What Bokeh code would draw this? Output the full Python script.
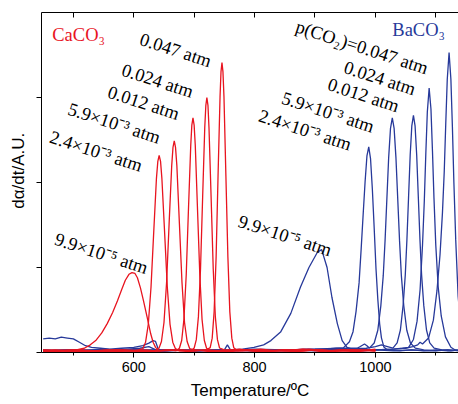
from bokeh.plotting import figure
from bokeh.models import Range1d, LinearAxis, FixedTicker
from bokeh.core.properties import value
from bokeh.embed import file_html
from bokeh.resources import INLINE

# ---------------- data ----------------
# CaCO3 curves (temperature in degC, d(alpha)/dt in arbitrary units)
ca_99e5_t = [450, 470, 490, 505, 518, 528, 537, 547, 556, 565, 573, 580, 586, 592, 597, 602, 606, 611, 616, 622,
             628, 632, 636, 642, 660, 690, 720, 750, 780, 810, 840, 870, 900, 930, 960, 1000]
ca_99e5_y = [0.02, 0.03, 0.02, 0.03, 0.05, 0.09, 0.14, 0.23, 0.34, 0.47, 0.61, 0.74, 0.85, 0.92, 0.94, 0.93, 0.88,
             0.76, 0.61, 0.42, 0.22, 0.12, 0.06, 0.02, 0.03, 0.01, 0.03, 0.02, 0.03, 0.01, 0.03, 0.02, 0.03, 0.02,
             0.03, 0.02]

ca_24e3_t = [450, 475, 500, 525, 550, 575, 600, 608,
             615, 619.5, 624, 628.5, 633, 637.5, 639.8, 642, 644.3, 646.5, 651, 655.5, 660, 664.5, 669,
             675, 700, 725, 750, 775, 800, 825, 850, 875, 900, 925, 950, 975, 1000]
ca_24e3_y = [0.02, 0.01, 0.03, 0.02, 0.01, 0.03, 0.02, 0.03,
             0.045, 0.121, 0.331, 0.768, 1.416, 2.049, 2.249, 2.32, 2.249, 2.049, 1.416, 0.768, 0.331, 0.121, 0.045,
             0.02, 0.03, 0.01, 0.02, 0.04, 0.02, 0.01, 0.03, 0.02, 0.03, 0.01, 0.02, 0.03, 0.02]

ca_59e3_t = [450, 480, 510, 540, 570, 600, 620, 635,
             641.5, 645.8, 650, 654.3, 658.5, 662.8, 664.9, 667, 669.1, 671.3, 675.5, 679.8, 684, 688.3, 692.5,
             700, 730, 760, 790, 820, 850, 880, 910, 940, 970, 1000]
ca_59e3_y = [0.01, 0.02, 0.03, 0.02, 0.01, 0.02, 0.03, 0.02,
             0.047, 0.129, 0.353, 0.823, 1.519, 2.199, 2.413, 2.49, 2.413, 2.199, 1.519, 0.823, 0.353, 0.129, 0.047,
             0.03, 0.02, 0.01, 0.03, 0.02, 0.02, 0.04, 0.01, 0.03, 0.02, 0.03]

ca_012_t = [450, 485, 520, 555, 590, 625, 655, 670,
            675.5, 679.3, 683, 686.8, 690.5, 694.3, 696.1, 698, 699.9, 701.8, 705.5, 709.3, 713, 716.8, 720.5,
            728, 760, 790, 820, 850, 880, 910, 940, 970, 1000]
ca_012_y = [0.03, 0.02, 0.01, 0.03, 0.02, 0.01, 0.03, 0.02,
            0.05, 0.141, 0.39, 0.911, 1.683, 2.437, 2.675, 2.76, 2.675, 2.437, 1.683, 0.911, 0.39, 0.141, 0.05,
            0.02, 0.03, 0.02, 0.01, 0.03, 0.02, 0.03, 0.02, 0.01, 0.03]

ca_024_t = [450, 490, 530, 570, 610, 650, 680, 695,
            700, 703.5, 707, 710.5, 714, 717.5, 719.3, 721, 722.8, 724.5, 728, 731.5, 735, 738.5, 742,
            750, 780, 810, 840, 870, 900, 930, 960, 1000]
ca_024_y = [0.02, 0.03, 0.02, 0.03, 0.01, 0.02, 0.03, 0.02,
            0.053, 0.151, 0.422, 0.989, 1.829, 2.648, 2.908, 3.0, 2.908, 2.648, 1.829, 0.989, 0.422, 0.151, 0.053,
            0.03, 0.02, 0.04, 0.02, 0.01, 0.03, 0.02, 0.03, 0.02]

ca_047_t = [450, 495, 540, 585, 630, 670, 700, 720,
            726.5, 729.8, 733, 736.3, 739.5, 742.8, 744.4, 746, 747.6, 749.3, 752.5, 755.8, 759, 762.3, 765.5,
            772, 800, 830, 860, 890, 920, 950, 975, 1000]
ca_047_y = [0.03, 0.01, 0.02, 0.03, 0.02, 0.03, 0.02, 0.03,
            0.057, 0.169, 0.478, 1.122, 2.078, 3.01, 3.305, 3.41, 3.305, 3.01, 2.078, 1.122, 0.478, 0.169, 0.057,
            0.02, 0.03, 0.02, 0.03, 0.04, 0.02, 0.03, 0.02, 0.04]

# BaCO3 curves
ba_99e5_t = [450, 470, 490, 510, 530, 550, 570, 590, 610, 625, 634, 640, 648, 670, 700, 730, 750, 755, 760, 780,
             799, 815, 827, 843, 860, 876, 890, 904, 911, 920, 928, 937, 945, 953, 965, 980, 1000, 1030, 1060,
             1090, 1120, 1140]
ba_99e5_y = [0.03, 0.02, 0.03, 0.02, 0.03, 0.04, 0.03, 0.04, 0.05, 0.07, 0.04, 0.02, 0.02, 0.03, 0.02, 0.03, 0.03,
             0.09, 0.03, 0.04, 0.06, 0.09, 0.14, 0.24, 0.46, 0.77, 1.0, 1.18, 1.21, 1.0, 0.65, 0.34, 0.14, 0.06,
             0.03, 0.02, 0.03, 0.02, 0.03, 0.02, 0.03, 0.02]

ba_24e3_t = [450, 460, 470, 480, 490, 500, 510, 520, 530, 545, 560, 580, 600, 615, 625, 632, 636, 641, 650, 680,
             710, 740, 770, 800, 830, 860, 890, 915, 935,
             947, 957, 963, 968, 973, 976.5, 980, 983, 986, 989, 992, 995, 998, 1001, 1004, 1007, 1010, 1014,
             1020, 1040, 1060, 1080, 1100, 1120, 1140]
ba_24e3_y = [0.16, 0.17, 0.16, 0.18, 0.17, 0.16, 0.12, 0.08, 0.06, 0.05, 0.04, 0.05, 0.06, 0.08, 0.11, 0.14, 0.13,
             0.03, 0.02, 0.03, 0.02, 0.03, 0.02, 0.03, 0.02, 0.03, 0.04, 0.04, 0.05,
             0.054, 0.126, 0.245, 0.484, 0.819, 1.225, 1.655, 2.014, 2.312, 2.42, 2.277, 1.918, 1.464, 0.986,
             0.628, 0.341, 0.173, 0.066,
             0.03, 0.02, 0.03, 0.02, 0.03, 0.02, 0.03]

ba_59e3_t = [450, 500, 550, 600, 650, 700, 750, 800, 850, 900, 940, 970, 975, 982, 986,
             990, 998, 1004, 1009, 1013, 1016, 1019, 1022, 1025, 1028, 1031, 1034, 1037, 1040, 1043, 1047, 1052,
             1058, 1066, 1080, 1100, 1120, 1140]
ba_59e3_y = [0.02, 0.03, 0.02, 0.03, 0.02, 0.03, 0.02, 0.04, 0.03, 0.04, 0.05, 0.05, 0.07, 0.1, 0.08,
             0.052, 0.112, 0.262, 0.549, 0.904, 1.313, 1.805, 2.296, 2.637, 2.76, 2.637, 2.296, 1.805, 1.313,
             0.904, 0.549, 0.262, 0.112, 0.052, 0.03, 0.02, 0.03, 0.02]

ba_012_t = [450, 500, 550, 600, 650, 700, 750, 800, 850, 900, 950, 985, 1000, 1010, 1020,
            1029, 1036, 1041.4, 1045.9, 1049.5, 1052.2, 1054.9, 1057.6, 1060.3, 1063, 1065.7, 1068.4, 1071.1,
            1073.8, 1076.5, 1080.1, 1084.6, 1090, 1097.2, 1110, 1125, 1140]
ba_012_y = [0.02, 0.03, 0.02, 0.02, 0.03, 0.02, 0.03, 0.02, 0.03, 0.03, 0.04, 0.05, 0.07, 0.09, 0.07,
            0.052, 0.113, 0.265, 0.554, 0.913, 1.327, 1.824, 2.321, 2.666, 2.79, 2.666, 2.321, 1.824, 1.327,
            0.913, 0.554, 0.265, 0.113, 0.052, 0.03, 0.02, 0.03]

ba_024_t = [450, 500, 550, 600, 650, 700, 750, 800, 850, 900, 950, 1000, 1030, 1045,
            1055, 1063, 1069, 1074, 1078, 1081, 1083.5, 1086, 1089, 1092, 1094.5, 1097, 1100, 1104, 1109, 1116,
            1125, 1132, 1140]
ba_024_y = [0.03, 0.02, 0.03, 0.02, 0.02, 0.03, 0.02, 0.03, 0.02, 0.03, 0.03, 0.03, 0.04, 0.05,
            0.061, 0.153, 0.369, 0.738, 1.262, 1.786, 2.34, 2.833, 3.11, 2.864, 2.371, 1.816, 1.262, 0.769, 0.43,
            0.184, 0.061, 0.03, 0.02]

ba_047_t = [450, 500, 550, 600, 650, 700, 750, 800, 850, 900, 950, 1000, 1030, 1050, 1062, 1070, 1074,
            1078, 1088, 1096, 1102, 1107, 1111, 1114, 1116.5, 1119, 1122, 1125, 1127.5, 1130, 1133, 1137, 1142]
ba_047_y = [0.02, 0.03, 0.02, 0.03, 0.03, 0.02, 0.03, 0.02, 0.03, 0.02, 0.03, 0.03, 0.04, 0.05, 0.07, 0.09, 0.12,
            0.1, 0.17, 0.38, 0.73, 1.15, 1.64, 2.13, 2.69, 3.215, 3.53, 3.215, 2.655, 1.99, 1.325, 0.66, 0.275]

# labels
ca_labels = ["0.047 atm", "0.024 atm", "0.012 atm", "5.9×10⁻³ atm", "2.4×10⁻³ atm", "9.9×10⁻⁵ atm"]
ba_labels = ["p(CO₂)=0.047 atm", "0.024 atm", "0.012 atm", "5.9×10⁻³ atm", "2.4×10⁻³ atm", "9.9×10⁻⁵ atm"]
x_ticks = [600, 800, 1000]

# ---------------- layout / style ----------------
RED = "#e8141f"
BLUE = "#27399a"

ca_lab_x = [611, 581, 558, 492, 462, 470]
ca_lab_y = [3.69, 3.33, 3.07, 2.87, 2.54, 1.34]
ba_lab_x = [869, 949, 922, 846, 808, 774]
ba_lab_y = [3.84, 3.36, 3.16, 3.0, 2.79, 1.55]

p = figure(width=458, height=404, output_backend="svg", toolbar_location=None,
           x_range=Range1d(447.2, 1137.6), y_range=Range1d(0, 4.0),
           min_border_left=41, min_border_right=0, min_border_top=12, min_border_bottom=52)
p.outline_line_color = None
p.xgrid.visible = False
p.ygrid.visible = False
p.background_fill_color = "white"

xa = p.xaxis[0]
xa.ticker = FixedTicker(ticks=x_ticks, minor_ticks=[500, 700, 900, 1100])
xa.major_tick_in = 0
xa.major_tick_out = 5
xa.minor_tick_in = 0
xa.minor_tick_out = 3
xa.axis_line_color = "black"
xa.major_tick_line_color = "black"
xa.minor_tick_line_color = "black"
xa.major_label_text_font = "Liberation Sans"
xa.major_label_text_font_size = "14.5px"
xa.major_label_text_color = "black"
xa.major_label_standoff = 4
xa.axis_label = "Temperature/ºC"
xa.axis_label_text_font = "Liberation Sans"
xa.axis_label_text_font_size = "17px"
xa.axis_label_text_font_style = "normal"
xa.axis_label_text_color = "black"
xa.axis_label_standoff = 6

ya = p.yaxis[0]
ya.ticker = FixedTicker(ticks=[0, 1, 2, 3])
ya.major_tick_in = 0
ya.major_tick_out = 5
ya.minor_tick_in = 0
ya.minor_tick_out = 0
ya.axis_line_color = "black"
ya.major_tick_line_color = "black"
ya.major_label_text_font_size = "1px"
ya.major_label_text_color = None
ya.major_label_standoff = 0
ya.axis_label = "\u00a0\u00a0\u00a0\u00a0\u00a0dα/dt/A.U."
ya.axis_label_text_font = "Liberation Sans"
ya.axis_label_text_font_size = "17px"
ya.axis_label_text_font_style = "normal"
ya.axis_label_text_color = "black"
ya.axis_label_standoff = 9

top = LinearAxis(ticker=FixedTicker(ticks=[500, 600, 700, 800, 900, 1000, 1100]),
                 major_tick_in=5, major_tick_out=0, minor_tick_in=0, minor_tick_out=0,
                 major_label_text_font_size="1px", major_label_text_color=None, major_label_standoff=0,
                 axis_line_color="black", major_tick_line_color="black")
p.add_layout(top, "above")

blue_series = [(ba_99e5_t, ba_99e5_y), (ba_24e3_t, ba_24e3_y), (ba_59e3_t, ba_59e3_y),
               (ba_012_t, ba_012_y), (ba_024_t, ba_024_y), (ba_047_t, ba_047_y)]
red_series = [(ca_99e5_t, ca_99e5_y), (ca_24e3_t, ca_24e3_y), (ca_59e3_t, ca_59e3_y),
              (ca_012_t, ca_012_y), (ca_024_t, ca_024_y), (ca_047_t, ca_047_y)]

for t, y in blue_series:
    p.line(t, y, line_color=BLUE, line_width=1.3)
for t, y in red_series:
    p.line(t, y, line_color=RED, line_width=1.3)

ANG = -0.314
p.text(x=ca_lab_x, y=ca_lab_y, text=ca_labels, angle=ANG, text_font=value("Liberation Serif"),
       text_font_size=value("18.5px"), text_color="black", text_align="left", text_baseline="middle")
p.text(x=ba_lab_x, y=ba_lab_y, text=ba_labels, angle=ANG, text_font=value("Liberation Serif"),
       text_font_size=value("18.5px"), text_color="black", text_align="left", text_baseline="middle")

p.text(x=[465], y=[3.73], text=["CaCO₃"], text_font=value("Liberation Serif"),
       text_font_size=value("18.5px"), text_color=RED, text_align="left", text_baseline="middle")
p.text(x=[1028], y=[3.79], text=["BaCO₃"], text_font=value("Liberation Serif"),
       text_font_size=value("18.5px"), text_color=BLUE, text_align="left", text_baseline="middle")

open("out.html", "w").write(file_html(p, INLINE))
